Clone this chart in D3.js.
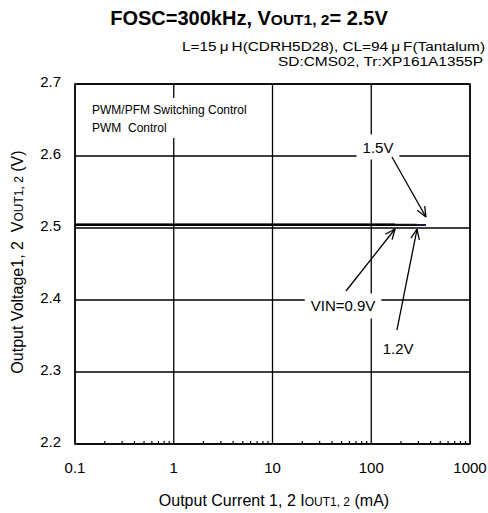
<!DOCTYPE html>
<html><head><meta charset="utf-8">
<script src="https://cdn.jsdelivr.net/npm/d3@7"></script>
<style>
html,body{margin:0;padding:0;background:#fff;}
svg{display:block;font-family:"Liberation Sans",Arial,sans-serif;}
</style></head>
<body><svg id="c" width="488" height="513"></svg>
<script>
// ---- data ----
const currents09 = [0.1, 0.2, 0.5, 1, 2, 5, 10, 20, 50, 100, 174];
const vout09     = [2.505, 2.505, 2.505, 2.505, 2.505, 2.505, 2.505, 2.505, 2.505, 2.505, 2.505];
const currents12 = [0.1, 0.2, 0.5, 1, 2, 5, 10, 20, 50, 100, 200, 291];
const vout12     = [2.5045, 2.5045, 2.5045, 2.5045, 2.5045, 2.5045, 2.5045, 2.5045, 2.5045, 2.5045, 2.5045, 2.5045];
const currents15 = [0.1, 0.2, 0.5, 1, 2, 5, 10, 20, 50, 100, 200, 358];
const vout15     = [2.504, 2.504, 2.504, 2.504, 2.504, 2.504, 2.504, 2.504, 2.504, 2.504, 2.504, 2.504];
const xTickValues = [0.1, 1, 10, 100, 1000];
const xTickLabels = ["0.1", "1", "10", "100", "1000"];
const yTickValues = [2.2, 2.3, 2.4, 2.5, 2.6, 2.7];
const yTickLabels = ["2.2", "2.3", "2.4", "2.5", "2.6", "2.7"];
// annotations in data space: [label, labelX, labelY, tailX, tailY, tipX, tipY]
const arrowNotes = [
  ["1.5V", 117, 2.6125, 162, 2.5986, 358, 2.5153],
  ["VIN=0.9V", 51.8, 2.3917, 55.5, 2.4125, 174, 2.4986],
  ["1.2V", 187, 2.332, 182, 2.3583, 291, 2.4986]
];

const svg = d3.select("#c");
const x = d3.scaleLog().domain([0.1, 1000]).range([75, 470]);
const y = d3.scaleLinear().domain([2.2, 2.7]).range([444, 84]);

// grid
const g = svg.append("g");
g.selectAll(".vg").data(xTickValues).enter().append("line")
  .attr("x1", d => x(d)).attr("x2", d => x(d)).attr("y1", y(2.7)).attr("y2", y(2.2))
  .attr("stroke", "#000").attr("stroke-width", 1.3);
g.selectAll(".hg").data(yTickValues).enter().append("line")
  .attr("x1", x(0.1)).attr("x2", x(1000)).attr("y1", d => y(d)).attr("y2", d => y(d))
  .attr("stroke", "#000").attr("stroke-width", 1.3);

// minor ticks bottom
const minors = [];
for (let e = -1; e < 3; e++) for (let m = 2; m <= 9; m++) minors.push(m * Math.pow(10, e));
g.selectAll(".mt").data(minors).enter().append("line")
  .attr("x1", d => x(d)).attr("x2", d => x(d)).attr("y1", y(2.2)).attr("y2", y(2.2) - 3)
  .attr("stroke", "#000").attr("stroke-width", 1.2);

// frame
svg.append("rect").attr("x", x(0.1)).attr("y", y(2.7))
  .attr("width", x(1000) - x(0.1)).attr("height", y(2.2) - y(2.7))
  .attr("fill", "none").attr("stroke", "#000").attr("stroke-width", 1.5);

// tick labels
svg.selectAll(".xl").data(xTickValues).enter().append("text")
  .attr("x", d => x(d)).attr("y", 473).attr("text-anchor", "middle")
  .attr("font-size", 15).text((d, i) => xTickLabels[i]);
svg.selectAll(".yl").data(yTickValues).enter().append("text")
  .attr("x", 61).attr("y", d => y(d) + 3).attr("text-anchor", "end")
  .attr("font-size", 15).text((d, i) => yTickLabels[i]);

// series
const line = d3.line().x(d => x(d[0])).y(d => y(d[1]));
const series = [
  [currents15, vout15, "#1b1b3a"],
  [currents12, vout12, "#101010"],
  [currents09, vout09, "#000"]
];
series.forEach(([xs, ys, c]) => {
  svg.append("path").datum(xs.map((v, i) => [v, ys[i]]))
    .attr("d", line).attr("fill", "none").attr("stroke", c).attr("stroke-width", 2);
});

// PWM box
svg.append("rect").attr("x", 86).attr("y", 98).attr("width", 162).attr("height", 40).attr("fill", "#fff");
svg.append("text").attr("x", 92).attr("y", 114).attr("font-size", 12).text("PWM/PFM Switching Control");
svg.append("text").attr("x", 92).attr("y", 132).attr("font-size", 12).attr("xml:space", "preserve").text("PWM  Control");

// arrow annotations
arrowNotes.forEach(([lab, lx, ly, tx, ty, hx, hy]) => {
  const t = svg.append("text").attr("x", x(lx)).attr("y", y(ly) + 5.5)
    .attr("text-anchor", "middle").attr("font-size", 15).text(lab);
  const bb = t.node().getBBox();
  if (lab !== "1.2V") {
    svg.insert("rect", "text").attr("x", bb.x - 6).attr("y", bb.y - 4)
      .attr("width", bb.width + 12).attr("height", bb.height + 8).attr("fill", "#fff");
  }
  const x1 = x(tx), y1 = y(ty), x2 = x(hx), y2 = y(hy);
  svg.append("line").attr("x1", x1).attr("y1", y1).attr("x2", x2).attr("y2", y2)
    .attr("stroke", "#000").attr("stroke-width", 1.3);
  const ang = Math.atan2(y2 - y1, x2 - x1), L = 11, a = 0.4;
  [ang + Math.PI - a, ang + Math.PI + a].forEach(t2 => {
    svg.append("line").attr("x1", x2).attr("y1", y2)
      .attr("x2", x2 + L * Math.cos(t2)).attr("y2", y2 + L * Math.sin(t2))
      .attr("stroke", "#000").attr("stroke-width", 1.3);
  });
});

// title
const title = svg.append("text").attr("x", 249).attr("y", 25).attr("text-anchor", "middle")
  .attr("font-size", 20).attr("font-weight", "bold");
title.append("tspan").text("FOSC=300kHz, V");
title.append("tspan").attr("font-size", 15.5).text("OUT1, 2");
title.append("tspan").text("= 2.5V");

// subtitle
const s1 = svg.append("text").attr("x", 182).attr("y", 51).attr("font-size", 12)
  .attr("textLength", 303).attr("lengthAdjust", "spacingAndGlyphs");
s1.text("L=15\u2009μ\u2009H(CDRH5D28), CL=94\u2009μ\u2009F(Tantalum)");
svg.append("text").attr("x", 278).attr("y", 66).attr("font-size", 12)
  .attr("textLength", 205).attr("lengthAdjust", "spacingAndGlyphs")
  .text("SD:CMS02, Tr:XP161A1355P");

// axis titles
const xt = svg.append("text").attr("x", 274).attr("y", 506).attr("text-anchor", "middle").attr("font-size", 16);
xt.append("tspan").text("Output Current 1, 2 I");
xt.append("tspan").attr("font-size", 12).text("OUT1, 2");
xt.append("tspan").text(" (mA)");

const yt = svg.append("text").attr("transform", "translate(23,262) rotate(-90)")
  .attr("text-anchor", "middle").attr("font-size", 16).attr("xml:space", "preserve");
yt.append("tspan").text("Output Voltage1, 2  V");
yt.append("tspan").attr("font-size", 12).text("OUT1, 2");
yt.append("tspan").text(" (V)");
</script></body></html>
